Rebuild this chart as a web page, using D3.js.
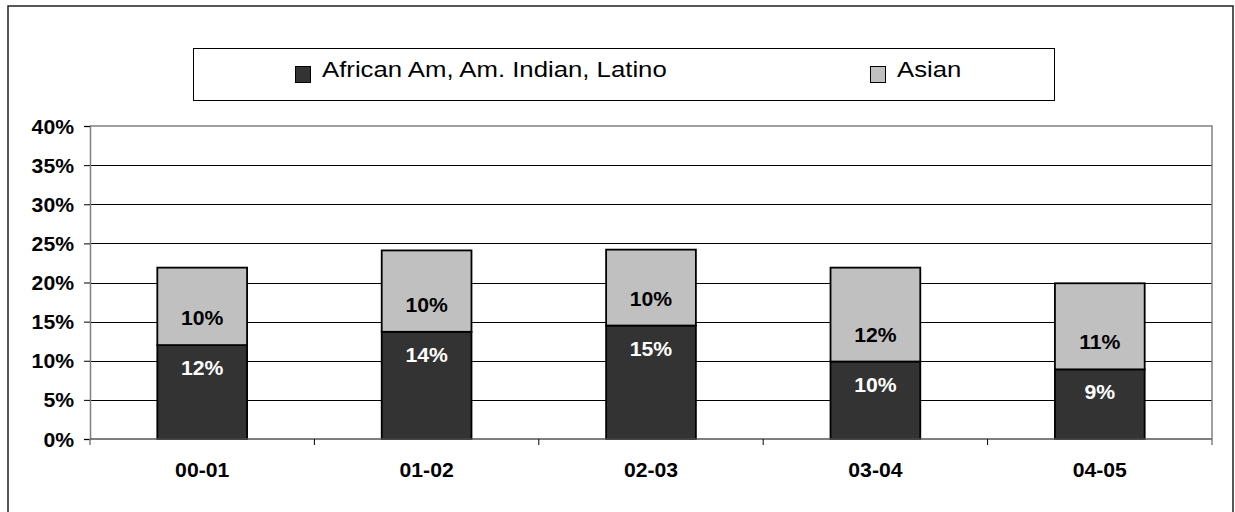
<!DOCTYPE html>
<html>
<head>
<meta charset="utf-8">
<script src="https://cdn.jsdelivr.net/npm/d3@7"></script>
<style>
  body { margin: 0; background: #fff; }
  svg text { font-family: "Liberation Sans", Arial, sans-serif; }
</style>
</head>
<body>
<svg id="chart" width="1235" height="512"></svg>
<script>
// data (percent)
var categories = ["00-01", "01-02", "02-03", "03-04", "04-05"]
var minorityValues = [12.0, 13.7, 14.5, 9.9, 8.9]
var asianValues = [9.9, 10.4, 9.7, 12.0, 11.0]
var seriesNames = ["African Am, Am. Indian, Latino", "Asian"]
var yTicks = [0, 5, 10, 15, 20, 25, 30, 35, 40]

var colors = ["#333333", "#c0c0c0"]
var stretch = 1.06   // the original text is drawn a bit wide
var labelSize = 20

var svg = d3.select("#chart")

var plot = {left: 90, right: 1212, top: 126, bottom: 439}

// outer chart border (runs off the bottom)
svg.append("path")
	.attr("d", "M8,520 L8,6 L1233,6 L1233,520")
	.attr("fill", "none")
	.attr("stroke", "#222")
	.attr("stroke-width", 1.5)

var rows = categories.map(function(c, i) {
	return {cat: c, minority: minorityValues[i], asian: asianValues[i]}
})

var stack = d3.stack().keys(["minority", "asian"])
var series = stack(rows)

var x = d3.scaleBand()
	.domain(categories)
	.range([plot.left, plot.right])
	.paddingInner(0.6)
	.paddingOuter(0.3)

var y = d3.scaleLinear()
	.domain([0, 40])
	.range([plot.bottom, plot.top])

// gridlines
svg.append("g")
	.attr("shape-rendering", "crispEdges")
	.selectAll("line")
	.data(yTicks.filter(function(d) { return d > 0 && d < 40 }))
	.join("line")
		.attr("x1", plot.left)
		.attr("x2", plot.right)
		.attr("y1", function(d) { return Math.round(y(d)) + 0.5 })
		.attr("y2", function(d) { return Math.round(y(d)) + 0.5 })
		.attr("stroke", "#000")
		.attr("stroke-width", 1)

// plot area border (top + right, grey)
svg.append("path")
	.attr("d", "M" + plot.left + "," + y(40) + " L" + plot.right + "," + y(40) + " L" + plot.right + "," + plot.bottom)
	.attr("fill", "none")
	.attr("stroke", "#808080")
	.attr("stroke-width", 1.5)

// bars
var layer = svg.append("g")
	.selectAll("g")
	.data(series)
	.join("g")
		.attr("fill", function(d, i) { return colors[i] })

layer.selectAll("rect")
	.data(function(d) { return d })
	.join("rect")
		.attr("x", function(d) { return x(d.data.cat) })
		.attr("width", x.bandwidth())
		.attr("y", function(d) { return y(d[1]) })
		.attr("height", function(d) { return y(d[0]) - y(d[1]) })
		.attr("stroke", "#000")
		.attr("stroke-width", 1.8)

function wide(sel, sx) {
	sel.each(function() {
		var t = d3.select(this)
		var tx = +t.attr("x") || 0
		var ty = +t.attr("y") || 0
		t.attr("x", 0).attr("y", 0)
			.attr("transform", "translate(" + tx + "," + ty + ") scale(" + sx + ",1)")
	})
}

// value labels
svg.append("g")
	.selectAll("text")
	.data(series[0])
	.join("text")
		.attr("x", function(d) { return x(d.data.cat) + x.bandwidth() / 2 })
		.attr("y", function(d) { return y(d[1]) + 30 })
		.attr("text-anchor", "middle")
		.attr("font-size", labelSize)
		.attr("font-weight", "bold")
		.attr("fill", "#fff")
		.text(function(d) { return Math.round(d[1] - d[0]) + "%" })
		.call(wide, stretch)

svg.append("g")
	.selectAll("text")
	.data(series[1])
	.join("text")
		.attr("x", function(d) { return x(d.data.cat) + x.bandwidth() / 2 })
		.attr("y", function(d) { return y(d[0]) - 20 })
		.attr("text-anchor", "middle")
		.attr("font-size", labelSize)
		.attr("font-weight", "bold")
		.attr("fill", "#000")
		.text(function(d) { return Math.round(d[1] - d[0]) + "%" })
		.call(wide, stretch)

// y axis
var yAxis = d3.axisLeft(y)
	.tickValues(yTicks)
	.tickSize(6)
	.tickPadding(10)
	.tickFormat(function(d) { return d + "%" })

var gy = svg.append("g")
	.attr("transform", "translate(" + plot.left + ",0)")
	.call(yAxis)

gy.select(".domain").attr("stroke", "#808080").attr("stroke-width", 1.5)
gy.selectAll(".tick line").attr("stroke", "#000")
gy.selectAll(".tick text")
	.attr("font-size", labelSize)
	.attr("font-weight", "bold")
	.attr("fill", "#000")
	.attr("dy", null)
	.attr("y", 7)
	.call(wide, stretch)

// x axis: ticks sit on category boundaries
var boundaries = d3.range(categories.length + 1).map(function(i) {
	return plot.left + i * x.step()
})

var gx = svg.append("g")
gx.append("line")
	.attr("x1", plot.left)
	.attr("x2", plot.right)
	.attr("y1", plot.bottom)
	.attr("y2", plot.bottom)
	.attr("stroke", "#555")
	.attr("stroke-width", 1.5)

gx.selectAll(".xt")
	.data(boundaries)
	.join("line")
		.attr("class", "xt")
		.attr("x1", function(d) { return d })
		.attr("x2", function(d) { return d })
		.attr("y1", plot.bottom)
		.attr("y2", plot.bottom + 6)
		.attr("stroke", function(d, i) { return i == 0 || i == categories.length ? "#808080" : "#000" })
		.attr("stroke-width", function(d, i) { return i == 0 || i == categories.length ? 1.5 : 1 })

gx.selectAll("text")
	.data(categories)
	.join("text")
		.attr("x", function(d) { return x(d) + x.bandwidth() / 2 })
		.attr("y", 477)
		.attr("text-anchor", "middle")
		.attr("font-size", labelSize)
		.attr("font-weight", "bold")
		.attr("fill", "#000")
		.text(function(d) { return d })
		.call(wide, stretch)

// legend
var legend = svg.append("g")
legend.append("rect")
	.attr("x", 193.5)
	.attr("y", 48.5)
	.attr("width", 861)
	.attr("height", 52)
	.attr("fill", "#fff")
	.attr("stroke", "#000")
	.attr("stroke-width", 1)

var legendX = [295, 870]
var items = legend.selectAll(".item")
	.data(seriesNames)
	.join("g")
		.attr("class", "item")

items.append("rect")
	.attr("x", function(d, i) { return legendX[i] + 0.5 })
	.attr("y", 66.5)
	.attr("width", 15)
	.attr("height", 16)
	.attr("fill", function(d, i) { return colors[i] })
	.attr("stroke", "#000")
	.attr("stroke-width", 1)

items.append("text")
	.attr("x", function(d, i) { return legendX[i] + 27 })
	.attr("y", 77)
	.attr("font-size", 22)
	.attr("fill", "#000")
	.text(function(d) { return d })
	.call(wide, 1.17)
</script>
</body>
</html>
